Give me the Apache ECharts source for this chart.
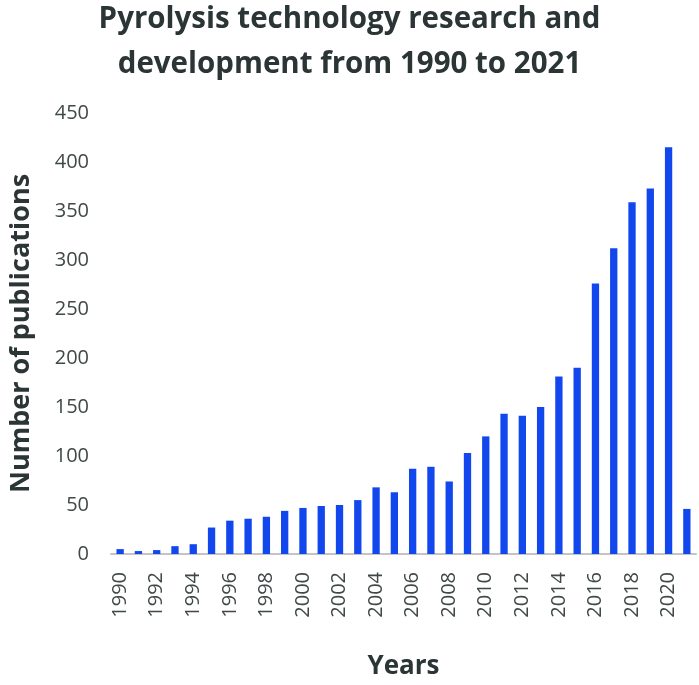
<!DOCTYPE html>
<html>
<head>
<meta charset="utf-8">
<script src="https://cdn.jsdelivr.net/npm/echarts@6/dist/echarts.min.js"></script>
<style>
html,body{margin:0;padding:0;background:#fff;}
#chart{width:699px;height:685px;}
</style>
</head>
<body>
<div id="chart"></div>
<script>
const years = ['1990','1991','1992','1993','1994','1995','1996','1997','1998','1999','2000','2001','2002','2003','2004','2005','2006','2007','2008','2009','2010','2011','2012','2013','2014','2015','2016','2017','2018','2019','2020','2021'];
const publications = [5,3,4,8,10,27,34,36,38,44,47,49,50,55,68,63,87,89,74,103,120,143,141,150,181,190,276,312,359,373,415,46];
const titleText = 'Pyrolysis technology research and\ndevelopment from 1990 to 2021';
const yAxisName = 'Number of publications';
const xAxisName = 'Years';

const textColor = '#2b3535';
const chart = echarts.init(document.getElementById('chart'), null, {renderer:'canvas'});
chart.setOption({
  backgroundColor:'#fff',
  animation:false,
  title:{
    text:titleText,
    left:'center',
    top:-3,
    padding:0,
    textStyle:{fontFamily:'Open Sans',fontWeight:'bold',fontSize:29.5,lineHeight:45,color:textColor}
  },
  grid:{left:102,right:3,top:113,bottom:113.5},
  xAxis:{
    type:'category',
    data:years,
    name:xAxisName,
    nameLocation:'middle',
    nameGap:100,
    nameTextStyle:{fontFamily:'Open Sans',fontWeight:'bold',fontSize:26,color:textColor},
    axisLine:{lineStyle:{color:'#c4c4c4',width:2}},
    axisTick:{show:false},
    axisLabel:{interval:1,rotate:90,fontFamily:'Open Sans',fontSize:20,color:'#404848',margin:18}
  },
  yAxis:{
    type:'value',
    min:0,max:450,interval:50,
    name:yAxisName,
    nameLocation:'middle',
    nameGap:76,
    nameTextStyle:{fontFamily:'Open Sans',fontWeight:'bold',fontSize:27,color:textColor},
    splitLine:{show:false},
    axisLine:{show:false},
    axisTick:{show:false},
    axisLabel:{fontFamily:'Open Sans',fontSize:20,color:'#404848',margin:22}
  },
  series:[{
    type:'bar',
    data:publications,
    barWidth:'40%',
    itemStyle:{color:'#1247ee'}
  }]
});
</script>
</body>
</html>
